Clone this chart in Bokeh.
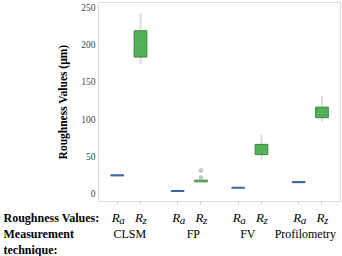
from bokeh.plotting import figure
from bokeh.models import ColumnDataSource, FixedTicker
from bokeh.layouts import column
from bokeh.core.properties import value
from bokeh.embed import file_html
from bokeh.resources import INLINE

# ---- data ----
techniques = ["CLSM", "FP", "FV", "Profilometry"]
params = ["a", "z"]  # R_a, R_z
# order: CLSM Ra, CLSM Rz, FP Ra, FP Rz, FV Ra, FV Rz, Prof Ra, Prof Rz
q1 = [23.3, 183.5, 2.3, 15.3, 6.7, 52.0, 14.2, 101.8]
med = [24.0, 200.5, 2.8, 16.5, 7.3, 55.5, 14.9, 108.0]
q3 = [24.8, 219.0, 3.6, 17.6, 8.0, 65.8, 15.7, 116.0]
wlo = [22.8, 173.5, 2.0, 15.0, 6.5, 45.0, 13.8, 96.5]
whi = [25.5, 242.0, 5.2, 18.0, 8.3, 79.0, 16.2, 130.7]
out_x_idx = [3, 3]
out_y = [21.2, 30.7]
y_ticks = [0, 50, 100, 150, 200, 250]

# ---- layout ----
RZ_OFF = 0.385
xs = []
for gi in range(len(techniques)):
    xs.append(gi)
    xs.append(gi + RZ_OFF)
is_rz = [i % 2 == 1 for i in range(len(xs))]
fills = ["#4670aa" if not r else "#4aab4f" for r in is_rz]
lines = ["#3a62a0" if not r else "#378a3c" for r in is_rz]
med_alpha = [0.0 if not r else 0.8 for r in is_rz]

W = 342
H1 = 206
FL, FR, FT, FB = 98, 2, 2, 5
x_start, x_end = -0.309, 3.691
y_start, y_end = -11.2, 257.1
PXX = (W - FL - FR) / (x_end - x_start)
FONT = "Liberation Serif"

p = figure(width=W, height=H1, output_backend="svg", toolbar_location=None,
           x_range=(x_start, x_end), y_range=(y_start, y_end),
           min_border_left=FL, min_border_right=FR, min_border_top=FT,
           min_border_bottom=FB)
p.background_fill_color = "white"
p.border_fill_color = "white"
p.outline_line_color = "#dedede"
p.grid.visible = False

src = ColumnDataSource(dict(x=xs, q1=q1, med=med, q3=q3, wlo=wlo, whi=whi,
                            fill=fills, line=lines, malpha=med_alpha))
p.segment(x0="x", x1="x", y0="q3", y1="whi", source=src, line_color="#dcdcdc", line_width=2)
p.segment(x0="x", x1="x", y0="wlo", y1="q1", source=src, line_color="#dcdcdc", line_width=2)
p.vbar(x="x", width=0.21, bottom="q1", top="q3", source=src,
       fill_color="fill", line_color="line", line_width=1, fill_alpha=0.95)
p.rect(x="x", y="med", width=0.2, height=0.6, source=src, fill_color="#6fbf72",
       line_color=None, fill_alpha="malpha")
p.scatter([xs[i] for i in out_x_idx], out_y, size=4, fill_color="#c8c8c8",
          line_color="#aaaaaa", line_width=0.5)

p.yaxis.ticker = FixedTicker(ticks=y_ticks)
p.yaxis.axis_line_color = None
p.yaxis.major_tick_line_color = None
p.yaxis.major_tick_out = 0
p.yaxis.major_tick_in = 0
p.yaxis.minor_tick_line_color = None
p.yaxis.minor_tick_out = 0
p.yaxis.major_label_standoff = 3
p.yaxis.major_label_text_font = FONT
p.yaxis.major_label_text_font_size = "9.5px"
p.yaxis.major_label_text_color = "#444444"
p.yaxis.axis_label = "Roughness Values (µm)"
p.yaxis.axis_label_text_font = FONT
p.yaxis.axis_label_text_font_style = "bold"
p.yaxis.axis_label_text_font_size = "11.5px"
p.yaxis.axis_label_text_color = "#000000"
p.yaxis.axis_label_standoff = 9

p.xaxis.ticker = FixedTicker(ticks=xs)
p.xaxis.axis_line_color = None
p.xaxis.major_tick_line_color = "#c8c8c8"
p.xaxis.major_tick_out = 3
p.xaxis.major_tick_in = 0
p.xaxis.minor_tick_line_color = None
p.xaxis.major_label_overrides = {x: "" for x in xs}
p.xaxis.major_label_standoff = 0

# ---- lower text panel (same horizontal scale, page-pixel vertical scale) ----
H2 = 256 - H1
bx_start = x_start - FL / PXX
bx_end = bx_start + W / PXX
p2 = figure(width=W, height=H2, output_backend="svg", toolbar_location=None,
            x_range=(bx_start, bx_end), y_range=(256, H1),
            min_border_left=0, min_border_right=0, min_border_top=0,
            min_border_bottom=0)
p2.axis.visible = False
p2.grid.visible = False
p2.outline_line_color = None
p2.background_fill_color = "white"
p2.border_fill_color = "white"

ROW1, ROW2, ROW3 = 217.0, 233.5, 249.5
left_x = bx_start + 3 / PXX

p2.text(x=[left_x, left_x, left_x], y=[ROW1, ROW2, ROW3],
        text=["Roughness Values:", "Measurement", "technique:"],
        text_font=value(FONT), text_font_style="bold", text_font_size="12px",
        text_baseline="alphabetic", text_align="left", text_color="black")

p2.text(x=xs, y=[ROW1] * len(xs), text=["R"] * len(xs), x_offset=2.5,
        text_font=value(FONT), text_font_style="italic", text_font_size="13px",
        text_baseline="alphabetic", text_align="right", text_color="black")
p2.text(x=xs, y=[ROW1 + 2.0] * len(xs), text=[params[i % 2] for i in range(len(xs))],
        x_offset=2.0, text_font=value(FONT), text_font_style="italic",
        text_font_size="11px", text_baseline="alphabetic", text_align="left",
        text_color="black")

nudge = [1, 4, -2, -5]
p2.text(x=[gi + RZ_OFF / 2 for gi in range(len(techniques))],
        y=[ROW2] * len(techniques), text=techniques, x_offset=nudge,
        text_font=value(FONT), text_font_size="12px", text_baseline="alphabetic",
        text_align="center", text_color="black")

open("out.html", "w").write(file_html(column(p, column(p2, spacing=0), spacing=0), INLINE))
